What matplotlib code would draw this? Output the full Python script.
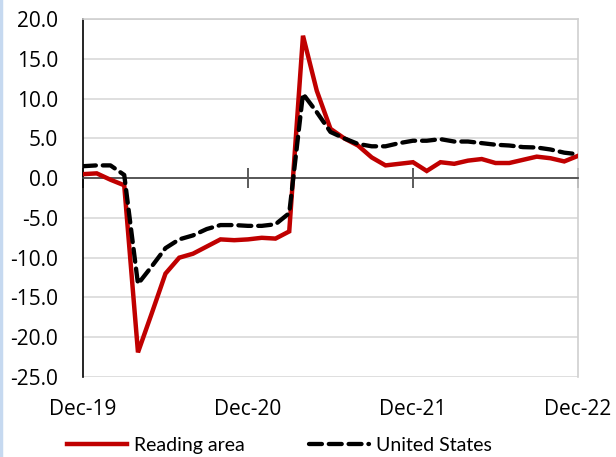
import numpy as np
import matplotlib
matplotlib.use('Agg')
import matplotlib.pyplot as plt
from matplotlib.lines import Line2D

plt.rcParams['font.family'] = ['Lato', 'DejaVu Sans']

# monthly, Dec-19 .. Dec-22
tick_labels = ['Dec-19', 'Dec-20', 'Dec-21', 'Dec-22']
reading = [0.5, 0.6, -0.2, -0.9, -21.9, -17.0, -12.0, -10.0, -9.5, -8.6,
           -7.7, -7.8, -7.7, -7.5, -7.6, -6.7, 17.9, 11.0, 6.2, 5.0,
           4.1, 2.6, 1.6, 1.8, 2.0, 0.9, 2.0, 1.8, 2.2, 2.4,
           1.9, 1.9, 2.3, 2.7, 2.5, 2.1, 2.8]
us = [1.5, 1.6, 1.6, 0.4, -13.3, -11.1, -8.8, -7.7, -7.2, -6.4,
      -5.9, -5.9, -6.0, -6.0, -5.8, -4.4, 10.6, 8.3, 5.8, 5.0,
      4.3, 4.0, 4.0, 4.4, 4.7, 4.7, 4.9, 4.6, 4.6, 4.4,
      4.2, 4.1, 3.9, 3.85, 3.6, 3.2, 3.0]

x = np.arange(len(reading))

fig = plt.figure(figsize=(6.16, 4.57), dpi=100)
ax = fig.add_axes([0.1347, 0.175, 0.8036, 0.7834])

ax.plot(x, reading, color='#C00000', lw=3.2, label='Reading area',
        solid_joinstyle='miter', zorder=3)
ax.plot(x, us, color='black', lw=3.1, ls=(0, (3.0, 1.6)), dash_capstyle='round',
        label='United States', zorder=4)

ax.set_xlim(0, 36)
ax.set_ylim(-25, 20)
ax.set_yticks(np.arange(-25, 21, 5))
ax.yaxis.set_major_formatter(matplotlib.ticker.FormatStrFormatter('%.1f'))
ax.tick_params(axis='y', length=0, pad=18, labelsize=15)
for t in ax.get_yticklabels():
    t.set_family('Open Sans')
ax.grid(axis='y', color='#d9d9d9', lw=1.2, zorder=0)

# axis line through zero with ticks crossing it
ax.spines['bottom'].set_position(('data', 0))
ax.spines['bottom'].set_color('#404040')
ax.spines['bottom'].set_linewidth(1.2)
ax.set_xticks([0, 12, 24, 36])
ax.set_xticklabels([])
ax.tick_params(axis='x', direction='inout', length=14, width=1.2, color='#404040')
ax.spines['left'].set_color('black')
ax.spines['left'].set_linewidth(1.2)
for s in ['top', 'right']:
    ax.spines[s].set_color('#d0d0d0')
    ax.spines[s].set_linewidth(1.2)

sec = ax.secondary_xaxis(0)
sec.set_xticks([0, 12, 24, 36])
sec.set_xticklabels(tick_labels, family='Open Sans')
sec.tick_params(length=0, pad=16, labelsize=15)
sec.spines['bottom'].set_visible(False)

fig.legend(loc='center', bbox_to_anchor=(0.453, 0.026), ncol=2, frameon=False,
           fontsize=14, handlelength=3.1, columnspacing=3.3, handletextpad=0.35)

fig.add_artist(Line2D([0.002, 0.002], [0, 1], color='#c6d9f0', lw=2.5))

fig.savefig('out.png', dpi=100)
